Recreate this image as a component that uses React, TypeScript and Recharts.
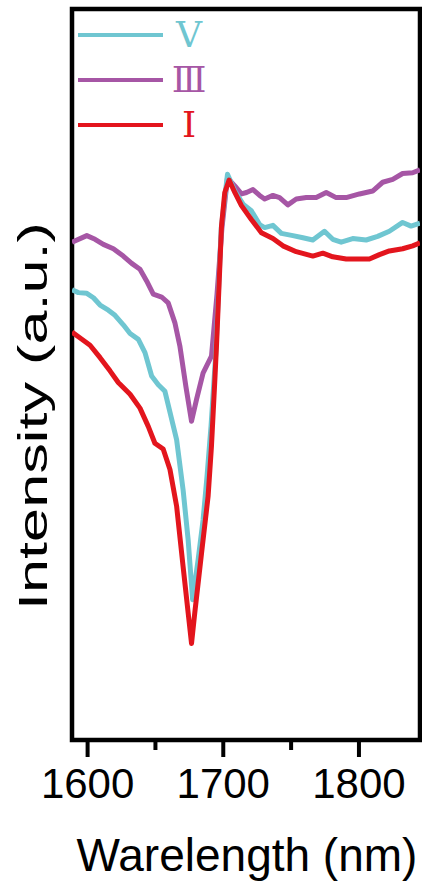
import { LineChart, Line, XAxis, YAxis, ReferenceArea } from 'recharts';

// wavelength (nm) / intensity (a.u., 0-100)
const WL_III = [
  1588.5, 1599.4, 1605.5, 1611.6, 1619.0, 1626.3, 1632.5, 1638.6, 1643.5, 1648.4, 1654.6, 1659.4, 1664.3, 1668.0,
  1672.4, 1676.6, 1680.3, 1685.1, 1691.3, 1695.4, 1699.0, 1703.1, 1708.5, 1713.4, 1717.1, 1721.9, 1726.8, 1730.5,
  1736.6, 1741.5, 1747.6, 1753.8, 1761.2, 1768.5, 1775.9, 1783.2, 1790.6, 1800.4, 1810.1, 1817.5, 1824.9, 1832.2,
  1839.6, 1845,
];
const INT_III = [
  68.1, 69.0, 68.5, 67.8, 67.2, 66.2, 65.2, 64.4, 62.8, 61.0, 60.6, 59.8, 57.1, 53.9,
  48.4, 43.6, 46.6, 50.2, 52.5, 61.0, 70.0, 76.9, 75.8, 74.7, 74.9, 75.3, 74.5, 74.0,
  74.5, 74.2, 73.2, 74.0, 74.2, 74.2, 74.9, 74.2, 74.2, 74.7, 75.1, 76.3, 76.7, 77.5,
  77.6, 78.0,
];

const WL_V = [
  1588.5, 1593.2, 1599.4, 1604.3, 1609.2, 1615.3, 1620.2, 1626.3, 1631.3, 1637.4, 1642.3, 1647.2, 1652.1, 1657.0,
  1665.6, 1670.4, 1674.1, 1677.4, 1681.5, 1685.1, 1688.0, 1691.0, 1694.5, 1698.5, 1703.1, 1708.5, 1714.6, 1720.7,
  1726.8, 1730.5, 1736.6, 1742.8, 1751.3, 1758.7, 1766.0, 1774.6, 1780.7, 1786.9, 1795.4, 1805.3, 1813.8, 1822.4,
  1832.2, 1838.4, 1845,
];
const INT_V = [
  61.6, 61.2, 61.1, 60.5, 59.5, 58.8, 58.1, 56.8, 55.6, 54.8, 53.0, 49.8, 48.6, 47.7,
  41.1, 34.2, 27.4, 19.2, 24.7, 30.1, 36.0, 43.0, 53.0, 70.0, 77.4, 75.1, 73.3, 72.4,
  70.5, 70.1, 70.4, 69.3, 69.0, 68.7, 68.4, 69.6, 68.5, 68.1, 68.6, 68.4, 68.9, 69.6,
  70.8, 70.3, 70.7,
];

const WL_I = [
  1588.5, 1594.5, 1601.8, 1609.2, 1616.5, 1622.6, 1631.3, 1638.6, 1644.7, 1649.6, 1655.7, 1660.7, 1665.6, 1670.4,
  1674.1, 1676.6, 1679.0, 1684.0, 1688.8, 1691.3, 1693.8, 1695.0, 1698.7, 1701.1, 1704.3, 1708.5, 1713.4, 1720.7,
  1728.1, 1736.6, 1744.0, 1753.8, 1766.0, 1773.4, 1780.7, 1790.6, 1807.7, 1815.1, 1822.4, 1832.2, 1839.6, 1845,
];
const INT_I = [
  55.8, 55.0, 54.0, 52.3, 50.5, 48.9, 47.3, 45.4, 42.9, 40.6, 39.8, 37.0, 32.0, 23.7,
  17.4, 13.2, 17.4, 25.6, 33.3, 40.2, 49.3, 53.9, 70.3, 74.9, 76.6, 74.9, 73.1, 71.2,
  69.4, 68.6, 67.6, 66.8, 66.2, 66.6, 66.1, 65.8, 65.8, 66.4, 66.9, 67.2, 67.6, 68.0,
];

const X_TICKS = [1600, 1650, 1700, 1750, 1800];
const LEGEND_ORDER = ['Ⅴ', 'Ⅲ', 'Ⅰ'];

const zip = (xs: number[], ys: number[]) => xs.map((x, i) => ({ x, y: ys[i] }));

// drawing order: purple under cyan under red
const SERIES = [
  { name: 'Ⅲ', color: '#a656a5', data: zip(WL_III, INT_III) },
  { name: 'Ⅴ', color: '#6fc6d1', data: zip(WL_V, INT_V) },
  { name: 'Ⅰ', color: '#e3151d', data: zip(WL_I, INT_I) },
];

const SANS = "'Liberation Sans', Arial, sans-serif";
const SERIF = "'Liberation Serif', 'DejaVu Serif', 'Times New Roman', serif";

const XTick = (props: any) => {
  const { x, y, payload } = props;
  const major = payload.value % 100 === 0;
  return (
    <g>
      <line x1={x} x2={x} y1={y} y2={y + (major ? 17 : 10)} stroke="#000" strokeWidth={4} />
      {major && (
        <text x={x} y={y + 58} textAnchor="middle" fontSize={42} fontFamily={SANS} fill="#000">
          {payload.value}
        </text>
      )}
    </g>
  );
};

export default function App() {
  const legendItems = LEGEND_ORDER.map((n) => SERIES.find((s) => s.name === n)!);
  return (
    <div style={{ position: 'absolute', left: 0, top: 0, width: 422, height: 885, background: '#fff' }}>
      <LineChart width={422} height={885} margin={{ top: 9, right: 2, bottom: 85, left: 72 }}>
        <XAxis
          type="number"
          dataKey="x"
          domain={[1588.5, 1845]}
          allowDataOverflow
          ticks={X_TICKS}
          interval={0}
          tick={<XTick />}
          tickLine={false}
          axisLine={false}
          tickSize={0}
          tickMargin={0}
          height={60}
        />
        <YAxis type="number" domain={[0, 100]} hide width={0} />
        {SERIES.map((s) => (
          <Line
            key={s.name}
            data={s.data}
            dataKey="y"
            name={s.name}
            type="linear"
            stroke={s.color}
            strokeWidth={5}
            strokeLinejoin="round"
            dot={false}
            activeDot={false}
            isAnimationActive={false}
          />
        ))}
        <ReferenceArea x1={1588.5} x2={1845} y1={0} y2={100} fill="none" fillOpacity={0} stroke="#000" strokeWidth={4.5} />
        {/* legend, top-left inside the frame */}
        <g>
          {legendItems.map((it, i) => (
            <g key={it.name}>
              <line x1={78} x2={163} y1={35 + i * 45} y2={35 + i * 45} stroke={it.color} strokeWidth={4} />
              <text x={189} y={47 + i * 45} textAnchor="middle" fontSize={36} fontFamily={SERIF} fill={it.color}>
                {it.name}
              </text>
            </g>
          ))}
        </g>
        <text
          x={47}
          y={416}
          transform="rotate(-90, 47, 416)"
          textAnchor="middle"
          fontSize={40}
          fontFamily={SANS}
          textLength={388}
          lengthAdjust="spacingAndGlyphs"
          fill="#000"
        >
          Intensity (a.u.)
        </text>
        <text x={247} y={871} textAnchor="middle" fontSize={46} fontFamily={SANS} fill="#000">
          Warelength (nm)
        </text>
      </LineChart>
    </div>
  );
}
